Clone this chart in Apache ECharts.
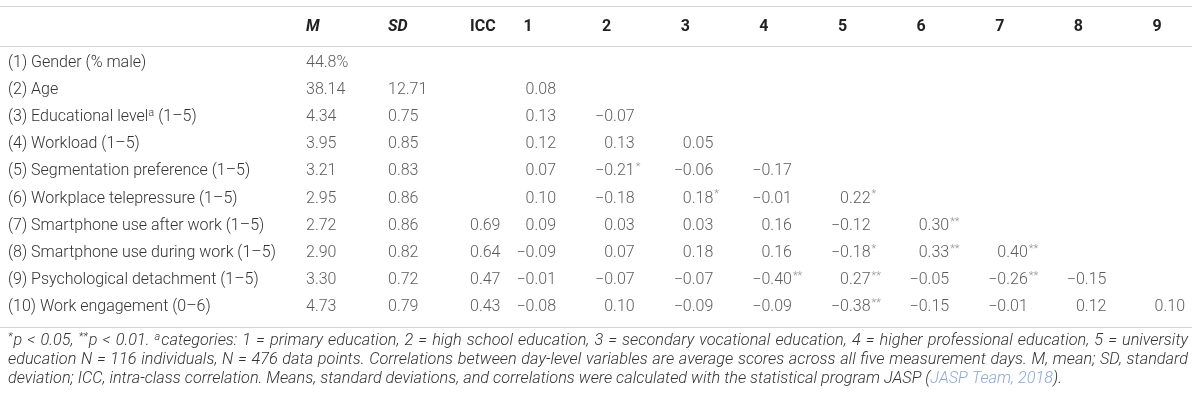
<!DOCTYPE html>
<html>
<head>
<meta charset="utf-8">
<script src="https://cdn.jsdelivr.net/npm/echarts@6/dist/echarts.min.js"></script>
<style>
  html, body { margin: 0; padding: 0; background: #fff; }
  #main { width: 1200px; height: 401px; }
</style>
</head>
<body>
<div id="main"></div>
<script>
// rows of the table
var rowNames = [
  '(1) Gender (% male)',
  '(2) Age',
  '(3) Educational level (1–5)',
  '(4) Workload (1–5)',
  '(5) Segmentation preference (1–5)',
  '(6) Workplace telepressure (1–5)',
  '(7) Smartphone use after work (1–5)',
  '(8) Smartphone use during work (1–5)',
  '(9) Psychological detachment (1–5)',
  '(10) Work engagement (0–6)'
];
var rowSup = ['', '', 'a', '', '', '', '', '', '', ''];

var statHeads = ['M', 'SD', 'ICC'];
var corrHeads = ['1', '2', '3', '4', '5', '6', '7', '8', '9'];

var means = [44.8, 38.14, 4.34, 3.95, 3.21, 2.95, 2.72, 2.90, 3.30, 4.73];
var sds = [null, 12.71, 0.75, 0.85, 0.83, 0.86, 0.86, 0.82, 0.72, 0.79];
var iccs = [null, null, null, null, null, null, 0.69, 0.64, 0.47, 0.43];

// lower triangle, row i has i values
var corr = [
  [],
  [0.08],
  [0.13, -0.07],
  [0.12, 0.13, 0.05],
  [0.07, -0.21, -0.06, -0.17],
  [0.10, -0.18, 0.18, -0.01, 0.22],
  [0.09, 0.03, 0.03, 0.16, -0.12, 0.30],
  [-0.09, 0.07, 0.18, 0.16, -0.18, 0.33, 0.40],
  [-0.01, -0.07, -0.07, -0.40, 0.27, -0.05, -0.26, -0.15],
  [-0.08, 0.10, -0.09, -0.09, -0.38, -0.15, -0.01, 0.12, 0.10]
];
var stars = [
  [],
  [''],
  ['', ''],
  ['', '', ''],
  ['', '*', '', ''],
  ['', '', '*', '', '*'],
  ['', '', '', '', '', '**'],
  ['', '', '', '', '*', '**', '**'],
  ['', '', '', '**', '**', '', '**', ''],
  ['', '', '', '', '**', '', '', '', '']
];

var notes = [
  '{sup|*}p < 0.05, {sup|**}p < 0.01. {sup|a}categories: 1 = primary education, 2 = high school education, 3 = secondary vocational education, 4 = higher professional education, 5 = university',
  'education N = 116 individuals, N = 476 data points. Correlations between day-level variables are average scores across all five measurement days. M, mean; SD, standard',
  'deviation; ICC, intra-class correlation. Means, standard deviations, and correlations were calculated with the statistical program JASP ({link|JASP Team, 2018}).'
];

var FONT = 'Roboto';
var TXT = '#333';
var FS = 16;      // table text
var NFS = 16.3;   // footnote text

function fmt(v) {
  var s = Math.abs(v).toFixed(2);
  return v < 0 ? '−' + s : s;
}

var statData = [];
[means, sds, iccs].forEach(function (arr, j) {
  arr.forEach(function (v, i) {
    if (v === null) return;
    statData.push([j, i, i === 0 && j === 0 ? v.toFixed(1) + '%' : v.toFixed(2)]);
  });
});

var corrData = [];
var starData = [];
corr.forEach(function (row, i) {
  row.forEach(function (v, j) {
    corrData.push([j, i, fmt(v)]);
    if (stars[i][j]) starData.push([j, i, stars[i][j]]);
  });
});

// justify a footnote line by widening its spaces
var ctx = document.createElement('canvas').getContext('2d');
function textW(s, size) {
  ctx.font = 'italic 300 ' + size + 'px ' + FONT;
  return ctx.measureText(s).width;
}
function justify(line, target) {
  var parts = line.split(/(\{[a-z]+\|[^}]*\})/);
  var natural = 0, gaps = 0;
  parts.forEach(function (p) {
    var m = p.match(/^\{([a-z]+)\|([^}]*)\}$/);
    if (m) {
      natural += textW(m[2], m[1] === 'sup' ? 11 : NFS) + (m[1] === 'sup' ? 1 : 0);
    } else {
      natural += textW(p, NFS);
      gaps += (p.match(/ /g) || []).length;
    }
  });
  var gw = textW(' ', NFS) + Math.max(0, target - natural) / gaps;
  var out = parts.map(function (p) {
    return /^\{/.test(p) ? p : p.replace(/ /g, '{g| }');
  }).join('');
  return { text: out, gap: gw };
}

var chart = echarts.init(document.getElementById('main'));

var noteRich = function (gap) {
  var r = {
    sup: { fontFamily: FONT, fontSize: 11, fontWeight: 300, fontStyle: 'italic', fill: TXT, padding: [0, 1, 7, 0] },
    link: { fontFamily: FONT, fontSize: NFS, fontWeight: 300, fontStyle: 'italic', fill: '#8ea8d8' }
  };
  if (gap) r.g = { fontFamily: FONT, fontSize: NFS, fontWeight: 300, fontStyle: 'italic', fill: TXT, width: gap };
  return r;
};

var noteEls = notes.map(function (t, k) {
  var j = k < 2 ? justify(t, 1180) : { text: t, gap: 0 };
  return {
    type: 'text',
    x: 8,
    y: 341 + k * 19,
    silent: true,
    style: {
      text: j.text,
      fontFamily: FONT,
      fontSize: NFS,
      fontWeight: 300,
      fontStyle: 'italic',
      fill: TXT,
      verticalAlign: 'middle',
      rich: noteRich(j.gap)
    }
  };
});

var option = {
  animation: false,
  grid: [
    { left: 306, width: 164, top: 49, height: 272 },
    { left: 556, right: 15, top: 49, height: 272 }
  ],
  xAxis: [
    {
      gridIndex: 0,
      type: 'category',
      position: 'top',
      boundaryGap: false,
      data: statHeads,
      axisLine: { show: false },
      axisTick: { show: false },
      axisLabel: {
        margin: 14,
        align: 'left',
        fontFamily: FONT,
        fontSize: FS,
        fontWeight: 'bold',
        color: '#222',
        rich: {
          i: { fontFamily: FONT, fontSize: FS, fontWeight: 'bold', fontStyle: 'italic', color: '#222' }
        },
        formatter: function (v) { return v === 'ICC' ? v : '{i|' + v + '}'; }
      }
    },
    {
      gridIndex: 1,
      type: 'category',
      position: 'top',
      boundaryGap: false,
      data: corrHeads,
      axisLine: { show: false },
      axisTick: { show: false },
      axisLabel: {
        margin: 14,
        align: 'center',
        padding: [0, 56, 0, 0],
        fontFamily: FONT,
        fontSize: FS,
        fontWeight: 'bold',
        color: '#222'
      }
    }
  ],
  yAxis: [
    {
      gridIndex: 0,
      type: 'category',
      inverse: true,
      data: rowNames,
      axisLine: { show: false },
      axisTick: { show: false },
      axisLabel: {
        margin: 298,
        align: 'left',
        fontFamily: FONT,
        fontSize: FS,
        fontWeight: 300,
        color: TXT,
        rich: {
          sup: { fontFamily: FONT, fontSize: 11, fontWeight: 300, color: TXT, padding: [0, 0, 7, 0] }
        },
        formatter: function (v, i) {
          if (!rowSup[i]) return v;
          var k = v.lastIndexOf(' (');
          return v.slice(0, k) + '{sup|' + rowSup[i] + '}' + v.slice(k);
        }
      }
    },
    {
      gridIndex: 1,
      type: 'category',
      inverse: true,
      data: rowNames,
      axisLine: { show: false },
      axisTick: { show: false },
      axisLabel: { show: false }
    }
  ],
  series: [
    {
      name: 'stats',
      type: 'scatter',
      xAxisIndex: 0,
      yAxisIndex: 0,
      symbolSize: 1,
      itemStyle: { color: 'rgba(0,0,0,0)' },
      label: {
        show: true,
        position: 'inside',
        align: 'left',
        verticalAlign: 'middle',
        fontFamily: FONT,
        fontSize: FS,
        fontWeight: 300,
        color: TXT,
        formatter: function (p) { return p.value[2]; }
      },
      data: statData
    },
    {
      name: 'corr',
      type: 'scatter',
      xAxisIndex: 1,
      yAxisIndex: 1,
      symbolSize: 1,
      itemStyle: { color: 'rgba(0,0,0,0)' },
      label: {
        show: true,
        position: 'inside',
        align: 'right',
        verticalAlign: 'middle',
        fontFamily: FONT,
        fontSize: FS,
        fontWeight: 300,
        color: TXT,
        formatter: function (p) { return p.value[2]; }
      },
      data: corrData
    },
    {
      name: 'stars',
      type: 'scatter',
      xAxisIndex: 1,
      yAxisIndex: 1,
      symbolSize: 1,
      itemStyle: { color: 'rgba(0,0,0,0)' },
      label: {
        show: true,
        position: 'inside',
        align: 'left',
        verticalAlign: 'middle',
        offset: [1, -4],
        fontFamily: FONT,
        fontSize: 11,
        fontWeight: 300,
        color: '#777',
        formatter: function (p) { return p.value[2]; }
      },
      data: starData
    }
  ],
  graphic: [
    { type: 'line', shape: { x1: 0, y1: 6.5, x2: 1192, y2: 6.5 }, style: { stroke: '#d4d4d4', lineWidth: 1 }, silent: true },
    { type: 'line', shape: { x1: 0, y1: 46.5, x2: 1192, y2: 46.5 }, style: { stroke: '#d4d4d4', lineWidth: 1 }, silent: true },
    { type: 'line', shape: { x1: 0, y1: 327.5, x2: 1192, y2: 327.5 }, style: { stroke: '#d4d4d4', lineWidth: 1 }, silent: true }
  ].concat(noteEls)
};

chart.setOption(option);
</script>
</body>
</html>
